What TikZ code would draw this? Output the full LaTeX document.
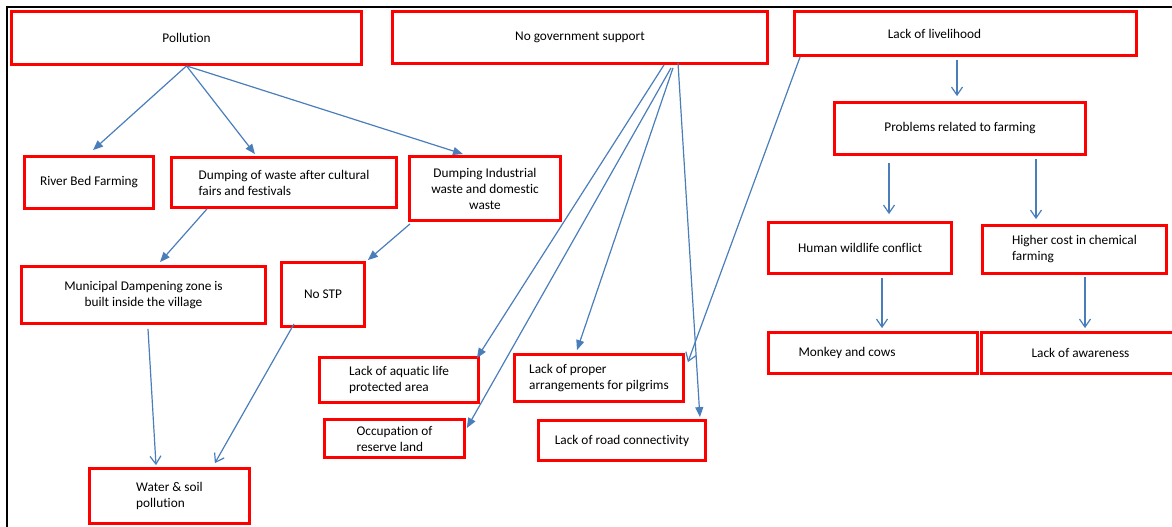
\documentclass[tikz,border=0pt]{standalone}
\usepackage{fontspec}
\setmainfont{Carlito}[Ligatures=NoCommon]
\usetikzlibrary{arrows.meta, positioning}
\definecolor{boxred}{RGB}{255,0,0}
\definecolor{linkblue}{RGB}{74,126,187}

\begin{document}
\begin{tikzpicture}[
    x=1pt, y=-1pt,
    box/.style={rectangle, draw=boxred, line width=2.8pt, fill=white, align=center, inner sep=2pt, font=\fontsize{13.3}{16}\selectfont},
    arrow/.style={-{Triangle[length=10pt, width=8pt]}, draw=linkblue, line width=1.2pt},
    openarrow/.style={-{Straight Barb[length=8pt, width=11pt]}, draw=linkblue, line width=1.2pt}
]
\useasboundingbox (0,0) rectangle (1172,527);

% Frame
\draw[line width=1.6pt] (7,527) -- (7,7) -- (1172,7);

% Top row
\node[box, minimum width=350pt, minimum height=53pt] (poll) at (186.5,38) {Pollution};
\node[box, minimum width=375pt, minimum height=52pt] (gov) at (580,37.5) {No government support};
\node[box, minimum width=342pt, minimum height=44pt] (live) at (965.5,33.5) {\hspace*{-62pt}Lack of livelihood};

% Pollution branch
\node[box, minimum width=129pt, minimum height=52pt] (river) at (89,182.5) {River Bed Farming};
\node[box, minimum width=225pt, minimum height=50pt, align=left] (dumpw) at (284,182.5) {Dumping of waste after cultural\\fairs and festivals};
\node[box, minimum width=151pt, minimum height=64pt] (dumpi) at (485,188.5) {Dumping Industrial\\waste and domestic\\waste};
\node[box, minimum width=244pt, minimum height=57pt] (muni) at (143.5,295) {Municipal Dampening zone is\\built inside the village};
\node[box, minimum width=83pt, minimum height=64pt] (nostp) at (323,294.5) {No STP};
\node[box, minimum width=160pt, minimum height=55pt, align=left] (water) at (169.5,496) {Water \& soil\\pollution};

% Government branch
\node[box, minimum width=159pt, minimum height=45pt, align=left] (aquatic) at (399,380) {Lack of aquatic life\\protected area};
\node[box, minimum width=140pt, minimum height=38pt, align=left] (occup) at (394.5,438.5) {Occupation of\\reserve land};
\node[box, minimum width=169pt, minimum height=47pt, align=left] (pilg) at (599,378) {Lack of proper\\arrangements for pilgrims};
\node[box, minimum width=167pt, minimum height=40pt] (road) at (622,440.5) {Lack of road connectivity};

% Livelihood branch
\node[box, minimum width=251pt, minimum height=52pt] (farm) at (960,128.5) {Problems related to farming};
\node[box, minimum width=183pt, minimum height=51pt] (human) at (860,248) {Human wildlife conflict};
\node[box, minimum width=184pt, minimum height=48pt, align=left] (higher) at (1074.5,249.5) {Higher cost in chemical\\farming};
\node[box, minimum width=209pt, minimum height=41pt] (monkey) at (873,353) {\hspace*{-52pt}Monkey and cows};
\node[box, minimum width=198pt, minimum height=41pt] (aware) at (1080.5,353) {Lack of awareness};

% Arrows
\draw[arrow] (poll.south) -- ([xshift=4pt, yshift=5pt]river.north);
\draw[arrow] (poll.south) -- ([xshift=-29pt, yshift=2pt]dumpw.north);
\draw[arrow] (poll.south) -- ([xshift=-22pt, yshift=1pt]dumpi.north);
\draw[arrow] ([xshift=-77pt]dumpw.south) -- ([xshift=16.5pt, yshift=3pt]muni.north);
\draw[arrow] ([xshift=-75pt, yshift=-2pt]dumpi.south) -- ([xshift=2pt, yshift=1pt]nostp.north east);
\draw[openarrow] ([xshift=4.5pt, yshift=-4pt]muni.south) -- ([xshift=-13.5pt, yshift=2pt]water.north);
\draw[openarrow] ([xshift=-29pt, yshift=4pt]nostp.south) -- ([xshift=-36pt, yshift=4pt]water.north east);

\draw[arrow] ([xshift=84pt]gov.south) -- ([xshift=-3pt, yshift=-2pt]aquatic.north east);
\draw[arrow] ([xshift=91pt, yshift=-3pt]gov.south) -- ([xshift=1pt, yshift=10.5pt]occup.east);
\draw[arrow] ([xshift=93pt, yshift=-3pt]gov.south) -- ([xshift=-22pt, yshift=3pt]pilg.north);
\draw[arrow] ([xshift=98pt, yshift=2pt]gov.south) -- ([xshift=-7pt, yshift=2pt]road.north east);

\draw[openarrow] ([xshift=7pt]live.south west) -- ([xshift=3pt, yshift=-9pt]pilg.north east);
\draw[openarrow] ([xshift=-8.5pt, yshift=-3pt]live.south) -- ([xshift=-3pt, yshift=5pt]farm.north);
\draw[openarrow] ([xshift=-71pt, yshift=-7pt]farm.south) -- ([xshift=29pt, yshift=7pt]human.north);
\draw[openarrow] ([xshift=76pt, yshift=-3pt]farm.south) -- ([xshift=-38.5pt, yshift=5pt]higher.north);
\draw[openarrow] ([xshift=22pt, yshift=-3pt]human.south) -- ([xshift=9pt, yshift=3pt]monkey.north);
\draw[openarrow] ([xshift=10.5pt, yshift=-2pt]higher.south) -- ([xshift=4.5pt, yshift=3pt]aware.north);

\end{tikzpicture}
\end{document}
